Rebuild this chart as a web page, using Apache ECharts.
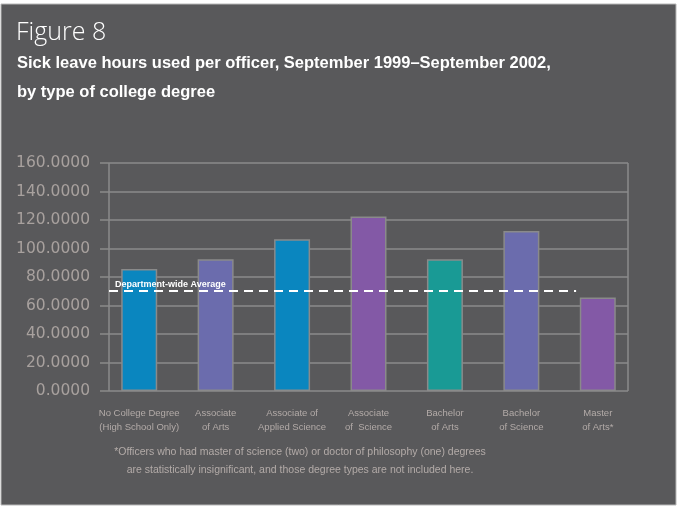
<!DOCTYPE html>
<html>
<head>
<meta charset="utf-8">
<script src="https://cdn.jsdelivr.net/npm/echarts@6/dist/echarts.min.js"></script>
<style>
  html, body { margin: 0; padding: 0; background: #ffffff; }
  #chart { width: 677px; height: 508px; }
</style>
</head>
<body>
<div id="chart"></div>
<script>
// Degree categories (two-line axis labels)
const categories = [
  'No College Degree\n(High School Only)',
  'Associate\nof Arts',
  'Associate of\nApplied Science',
  'Associate\nof  Science',
  'Bachelor\nof Arts',
  'Bachelor\nof Science',
  'Master\nof Arts*'
];
// Sick leave hours per officer, by degree
const hours = [85.6, 92.4, 106.5, 122.4, 92.4, 112.2, 65.7];
const barColors = ['#0a86bf', '#6b6cad', '#0a86bf', '#8359a6', '#199a95', '#6b6cad', '#8359a6'];
// Department-wide average
const departmentAverage = 70.2;
const averageLabel = 'Department-wide Average';
// Value axis ticks
const yMin = 0, yMax = 160, yStep = 20;

const titleText = 'Figure 8';
const subtitleLines = [
  'Sick leave hours used per officer, September 1999\u2013September 2002,',
  'by type of college degree'
];
const footnoteLines = [
  '*Officers who had master of science (two) or doctor of philosophy (one) degrees',
  'are statistically insignificant, and those degree types are not included here.'
];

const gridLine = '#8b8b8b';
const labelGrey = '#b3aba8';
const boldFont = 'bold 16.5px "Liberation Sans", Arial, sans-serif';
const noteFont = '10.5px "Liberation Sans", Arial, sans-serif';

const chart = echarts.init(document.getElementById('chart'), null, { renderer: 'canvas' });

chart.setOption({
  backgroundColor: '#ffffff',
  animation: false,
  graphic: [
    { type: 'rect', z: -10, shape: { x: 1, y: 4, width: 675, height: 501 },
      style: { fill: '#59595b', stroke: '#b8b8b8', lineWidth: 1 } },
    { type: 'text', x: 16, y: 33,
      style: { text: titleText, fill: '#ffffff', textVerticalAlign: 'middle', font: '300 25px "Open Sans", "Noto Sans", sans-serif' } },
    { type: 'text', x: 17, y: 63,
      style: { text: subtitleLines[0], fill: '#ffffff', textVerticalAlign: 'middle', font: boldFont } },
    { type: 'text', x: 17, y: 92,
      style: { text: subtitleLines[1], fill: '#ffffff', textVerticalAlign: 'middle', font: boldFont } },
    { type: 'text', x: 300, y: 452,
      style: { text: footnoteLines[0], fill: labelGrey, textAlign: 'center', textVerticalAlign: 'middle', font: noteFont } },
    { type: 'text', x: 300, y: 470,
      style: { text: footnoteLines[1], fill: labelGrey, textAlign: 'center', textVerticalAlign: 'middle', font: noteFont } }
  ],
  grid: [
    // bars and category labels
    { left: 101, right: 41, top: 163, bottom: 117 },
    // framed value area
    { left: 109, right: 49, top: 163, bottom: 117 }
  ],
  xAxis: [
    {
      type: 'category', gridIndex: 0, data: categories,
      axisLine: { show: false }, axisTick: { show: false }, splitLine: { show: false },
      axisLabel: {
        interval: 0, margin: 15, color: labelGrey, lineHeight: 14,
        fontFamily: '"Liberation Sans", Arial, sans-serif', fontSize: 9.5
      }
    },
    {
      type: 'value', gridIndex: 1, min: 0, max: 1, interval: 1,
      axisLine: { show: false }, axisTick: { show: false }, axisLabel: { show: false },
      splitLine: { show: true, lineStyle: { color: gridLine, width: 1.5 } }
    }
  ],
  yAxis: [
    { type: 'value', gridIndex: 0, min: yMin, max: yMax, interval: yStep, show: false },
    {
      type: 'value', gridIndex: 1, min: yMin, max: yMax, interval: yStep,
      axisLine: { show: false },
      axisTick: { show: true, length: 9, lineStyle: { color: gridLine, width: 1.5 } },
      splitLine: { show: true, lineStyle: { color: gridLine, width: 1.5 } },
      axisLabel: {
        margin: 19, color: '#a8a19e', fontSize: 15.5,
        fontFamily: '"DejaVu Sans", "Open Sans", sans-serif',
        formatter: v => v.toFixed(4)
      }
    }
  ],
  series: [
    {
      type: 'bar', xAxisIndex: 0, yAxisIndex: 0, barWidth: 36, z: 3,
      data: hours.map((v, i) => ({
        value: v,
        itemStyle: { color: barColors[i], borderColor: '#8a8a8a', borderWidth: 1.5 }
      }))
    },
    {
      type: 'line', xAxisIndex: 1, yAxisIndex: 1, data: [], z: 5,
      markLine: {
        symbol: 'none', silent: true,
        lineStyle: { color: '#ffffff', type: [9, 6], width: 2 },
        label: {
          show: true, position: 'insideStartTop', formatter: averageLabel,
          color: '#ffffff', fontSize: 9, fontWeight: 'bold', distance: [6, 2],
          fontFamily: '"Liberation Sans", Arial, sans-serif'
        },
        data: [[{ coord: [0, departmentAverage] }, { coord: [0.9, departmentAverage] }]]
      }
    }
  ]
});
</script>
</body>
</html>
